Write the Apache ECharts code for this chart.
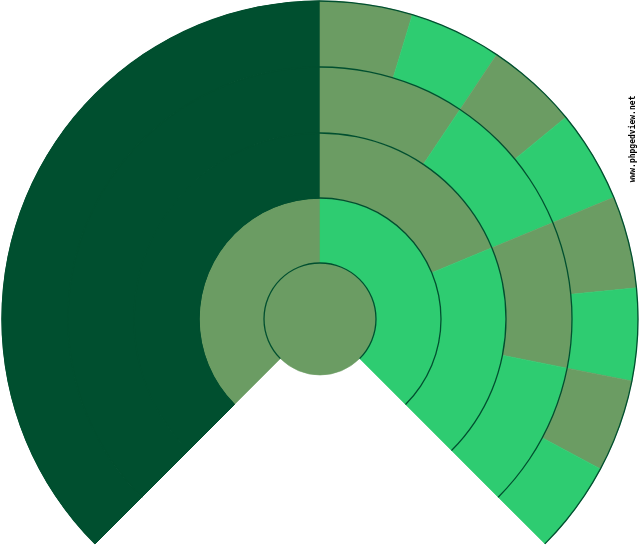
<!DOCTYPE html>
<html>
<head>
<meta charset="utf-8">
<script src="https://cdn.jsdelivr.net/npm/echarts@6/dist/echarts.min.js"></script>
<style>
  html, body { margin: 0; padding: 0; background: #ffffff; }
  #chart { width: 640px; height: 550px; }
</style>
</head>
<body>
<div id="chart"></div>
<script>
// ---- data ----
// Outermost generation of the right branch (8 equal sectors, clockwise from top)
const rightLeafValues = [3, 3, 3, 3, 3, 3, 3, 3];
// Left branch (drawn as one solid dark block beyond generation 1)
const leftBranchValue = 24;
// Empty wedge at the bottom of the fan
const gapValue = 16;
// Node colours: first child / second child, plus root and unknown-branch colour
const childColorNames = ['olive', 'green'];
const rootColorName = 'olive';
const leftBranchColorName = 'olive';
const unknownColorName = 'dark';
const watermark = 'www.phpgedview.net';

// ---- styles ----
const palette = { olive: '#6b9c63', green: '#2ecc71', dark: '#004f2f' };
const ringRadii = [0, 56, 121, 186, 252, 318];

function styled(colorName) {
  const c = palette[colorName];
  return { color: c, borderColor: c, borderWidth: 0.6 };
}

// Build the right branch as a binary tree, bottom-up, from the leaf values
let levelNodes = rightLeafValues.map((v, i) => ({
  name: 'g4-' + i, value: v, itemStyle: styled(childColorNames[i % 2])
}));
let gen = 3;
while (levelNodes.length > 2) {
  const next = [];
  for (let i = 0; i < levelNodes.length; i += 2) {
    const k = i / 2;
    next.push({
      name: 'g' + gen + '-' + k,
      children: [levelNodes[i], levelNodes[i + 1]],
      itemStyle: styled(childColorNames[k % 2])
    });
  }
  levelNodes = next;
  gen--;
}
const rightBranch = { name: 'right', children: levelNodes, itemStyle: styled('green') };

const darkStyle = styled(unknownColorName);
darkStyle.borderWidth = 1;
const leftBranch = {
  name: 'left', itemStyle: styled(leftBranchColorName),
  children: [{ name: 'l2', itemStyle: darkStyle,
    children: [{ name: 'l3', itemStyle: darkStyle,
      children: [{ name: 'l4', value: leftBranchValue, itemStyle: darkStyle }] }] }]
};
const gapNode = { name: 'gap', value: gapValue, itemStyle: { color: 'rgba(0,0,0,0)', borderWidth: 0 } };

const treeData = [{
  name: 'root', itemStyle: styled(rootColorName),
  children: [leftBranch, rightBranch, gapNode]
}];

const fanTotal = leftBranchValue + rightLeafValues.reduce((a, b) => a + b, 0);
const centerPos = [320, 319];

// Thin arcs between generations (only across the drawn fan, not the gap)
const arcSeries = ringRadii.slice(1).map((r) => ({
  type: 'pie',
  silent: true,
  z: 5,
  center: centerPos,
  radius: [r - 0.65, r + 0.65],
  startAngle: 225,
  clockwise: true,
  label: { show: false },
  labelLine: { show: false },
  emphasis: { disabled: true },
  itemStyle: { borderWidth: 0 },
  data: [
    { value: fanTotal, itemStyle: { color: palette.dark } },
    { value: gapValue, itemStyle: { color: 'rgba(0,0,0,0)' } }
  ]
}));

const levels = [{}];
for (let i = 0; i < ringRadii.length - 1; i++) {
  levels.push({ r0: ringRadii[i], r: ringRadii[i + 1] });
}

const chart = echarts.init(document.getElementById('chart'), null, { renderer: 'canvas' });
chart.setOption({
  backgroundColor: '#ffffff',
  animation: false,
  series: [{
    type: 'sunburst',
    center: centerPos,
    radius: [0, 318],
    startAngle: 225,
    clockwise: true,
    sort: null,
    nodeClick: false,
    silent: true,
    emphasis: { disabled: true, focus: 'none' },
    label: { show: false },
    itemStyle: { borderWidth: 0 },
    levels: levels,
    data: treeData
  }].concat(arcSeries),
  graphic: [{
    type: 'text',
    x: 633,
    y: 139,
    rotation: Math.PI / 2,
    style: {
      text: watermark,
      font: 'bold 8px "DejaVu Sans Mono"',
      fill: '#000000',
      align: 'center',
      verticalAlign: 'middle'
    }
  }]
});
</script>
</body>
</html>
